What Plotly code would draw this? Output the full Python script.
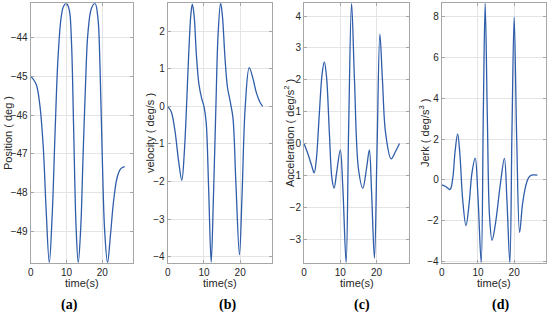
import plotly.graph_objects as go

# ---------------- data ----------------
t_pos = [0, 1.5, 2.5, 3.5, 4.3, 5.2, 6.0, 6.8, 7.6, 8.5, 9.2, 10.0, 10.8, 11.4, 12.0, 12.7, 13.3,
         14.0, 14.6, 15.3, 16.0, 17.0, 18.0, 18.8, 19.4, 20.0, 20.7, 21.5, 22.3, 23.2, 24.2, 25.2, 26.3]
position = [-45.0, -45.2, -45.7, -46.8, -48.4, -49.8, -48.6, -46.5, -44.6, -43.5, -43.2, -43.13, -43.3,
            -44.1, -46.3, -48.9, -49.8, -48.9, -47.2, -45.3, -43.9, -43.25, -43.13, -43.5, -44.8,
            -47.0, -49.0, -49.8, -49.1, -48.2, -47.6, -47.38, -47.33]

t_vel = [0, 1, 2, 3, 3.9, 4.6, 5.2, 5.8, 6.4, 6.8, 7.3, 7.9, 8.6, 9.4, 10.0, 10.6, 11.3, 12.0, 12.6,
         13.3, 13.9, 14.6, 15.1, 15.8, 16.5, 17.2, 18.0, 18.8, 19.8, 20.5, 21.4, 22.5, 23.5, 24.5, 25.5, 26.2]
velocity = [0, -0.15, -0.65, -1.45, -1.97, -1.2, 0.0, 1.4, 2.45, 2.72, 2.4, 1.4, 0.6, 0.2, 0.0, -0.4,
            -2.2, -4.15, -2.5, 0.0, 1.9, 2.75, 2.4, 1.3, 0.5, 0.15, -0.3, -2.0, -3.95, -2.4, 0.0, 1.03,
            0.75, 0.35, 0.1, 0.0]

t_acc = [0, 1, 2, 2.8, 3.4, 4.2, 5.0, 5.6, 6.2, 7.0, 7.7, 8.3, 9.0, 10.0, 10.7, 11.6, 12.3, 13.1, 13.9,
         15.0, 16.2, 17.2, 18.0, 18.6, 19.4, 20.1, 20.9, 21.6, 22.5, 24.0, 25.2, 26.3]
acceleration = [0, -0.3, -0.65, -0.92, -0.5, 0.9, 2.2, 2.56, 2.1, 0.3, -1.1, -1.4, -0.9, -0.2, -1.4,
                -3.74, 0.5, 4.4, 2.0, -0.8, -1.4, -0.8, -0.2, -1.5, -3.6, -0.3, 3.43, 2.0, 0.3, -0.48,
                -0.25, 0.0]

t_jerk = [0, 1, 2.3, 3.0, 3.7, 4.4, 5.0, 5.8, 6.7, 7.5, 8.4, 9.25, 10.0, 10.9, 11.5, 12.0, 12.6, 13.2,
          13.9, 14.8, 16.2, 17.3, 18.0, 18.8, 19.4, 20.0, 20.7, 21.5, 22.3, 23.2, 24.0, 24.8, 26.4]
jerk = [-0.25, -0.32, -0.48, 0.0, 1.4, 2.25, 1.3, -1.0, -2.26, -1.3, 0.4, 1.06, -0.8, -4.08, 3.5, 8.67,
        3.0, -1.8, -2.98, -2.2, -0.2, 1.05, -1.0, -4.08, 2.5, 7.99, 2.0, -2.6, -1.2, -0.3, 0.1, 0.22, 0.22]

x_ticks = [0, 10, 20]
pos_ticks = [-49, -48, -47, -46, -45, -44]
vel_ticks = [-4, -3, -2, -1, 0, 1, 2]
acc_ticks = [-3, -2, -1, 0, 1, 2, 3, 4]
jerk_ticks = [-4, -2, 0, 2, 4, 6, 8]

y_titles = ["Position ( deg )", "velocity ( deg/s )",
            "Acceleration ( deg/s<sup>2</sup> )", "Jerk ( deg/s<sup>3</sup> )"]
panel_labels = ["(a)", "(b)", "(c)", "(d)"]
x_title = "time(s)"

# ---------------- layout ----------------
W, H = 550, 332
left_px = [(30.7, 133.3), (167.7, 271.7), (304.0, 409.3), (441.7, 545.7)]
top_px, bot_px = 3.3, 262.7
x_ranges = [[0, 28.7], [0, 28.7], [0, 29.0], [0, 28.7]]
y_ranges = [[-49.8, -43.125], [-4.16, 2.74], [-3.74, 4.4], [-4.08, 8.67]]
ytitle_x = [8, 150, 289, 424]
label_x = [70, 227, 362, 500]

series = [(t_pos, position, pos_ticks), (t_vel, velocity, vel_ticks),
          (t_acc, acceleration, acc_ticks), (t_jerk, jerk, jerk_ticks)]

fig = go.Figure()
font_main = "Liberation Sans, Arial, sans-serif"
line_col = "#2F5DAA"

annotations = []
for i, (tx, ty, yt) in enumerate(series):
    n = "" if i == 0 else str(i + 1)
    fig.add_trace(go.Scatter(x=tx, y=ty, mode="lines",
                             line=dict(color=line_col, width=1.3, shape="spline", smoothing=1.0),
                             xaxis="x" + n, yaxis="y" + n, showlegend=False, hoverinfo="skip"))
    x0, x1 = left_px[i]
    common = dict(showgrid=True, gridcolor="#e4e4e4", gridwidth=1, zeroline=False,
                  showline=True, linecolor="#a6a6a6", linewidth=1, mirror="ticks",
                  ticks="inside", ticklen=3, tickcolor="#a6a6a6", automargin=False,
                  tickfont=dict(family=font_main, size=10, color="#262626"))
    ax = dict(domain=[x0 / W, x1 / W], range=x_ranges[i], tickvals=x_ticks,
              anchor="y" + n, **common)
    ay = dict(domain=[(H - bot_px) / H, (H - top_px) / H], range=y_ranges[i], tickvals=yt,
              anchor="x" + n, **common)
    fig.layout["xaxis" + n] = ax
    fig.layout["yaxis" + n] = ay

    annotations.append(dict(text=y_titles[i], x=ytitle_x[i] / W, y=1 - 133 / H,
                            xref="paper", yref="paper", textangle=-90, showarrow=False,
                            xanchor="center", yanchor="middle",
                            font=dict(family=font_main, size=11, color="#262626")))
    annotations.append(dict(text=x_title, x=(x0 + x1) / 2 / W, y=1 - 283 / H,
                            xref="paper", yref="paper", showarrow=False,
                            xanchor="center", yanchor="middle",
                            font=dict(family=font_main, size=11, color="#262626")))
    annotations.append(dict(text="<b>" + panel_labels[i] + "</b>", x=label_x[i] / W, y=1 - 305 / H,
                            xref="paper", yref="paper", showarrow=False,
                            xanchor="center", yanchor="middle",
                            font=dict(family="Liberation Serif, Times New Roman, serif", size=14,
                                      color="#000000")))

fig.update_layout(width=W, height=H, margin=dict(l=0, r=0, t=0, b=0),
                  paper_bgcolor="white", plot_bgcolor="white", annotations=annotations,
                  hovermode=False)

fig.write_html("out.html", config={"displayModeBar": False},
               post_script="document.body.style.margin='0';document.body.style.overflow='hidden';")
